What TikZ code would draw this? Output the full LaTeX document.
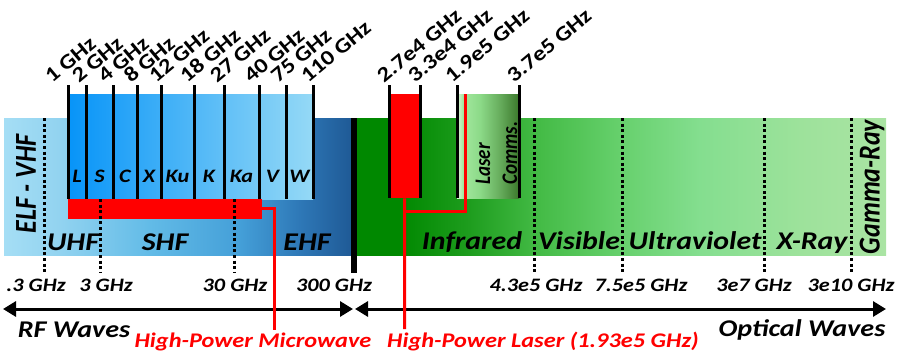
\documentclass[tikz,border=0pt]{standalone}
\usepackage{fontspec}
\setmainfont[FakeStretch=1.17]{Carlito}
\newfontfamily\plainfont{Carlito}
\usetikzlibrary{arrows.meta}
\definecolor{rf0}{HTML}{A5DEF5}
\definecolor{rf1}{HTML}{92D3F0}
\definecolor{rf2}{HTML}{62BBE7}
\definecolor{rf3}{HTML}{449FD8}
\definecolor{rf4}{HTML}{2E78B7}
\definecolor{rf5}{HTML}{1F5A96}
\definecolor{gr0}{HTML}{008800}
\definecolor{gr1}{HTML}{1E9D1E}
\definecolor{gr2}{HTML}{44BB46}
\definecolor{gr3}{HTML}{66D06C}
\definecolor{gr4}{HTML}{84DE8F}
\definecolor{gr5}{HTML}{9DE29B}
\definecolor{gr6}{HTML}{AAE4A3}
\definecolor{cm0}{HTML}{DDF5D8}
\definecolor{cm1}{HTML}{A3E79F}
\definecolor{cm2}{HTML}{8CDA88}
\definecolor{cm3}{HTML}{66AC5C}
\definecolor{cm4}{HTML}{3B782B}
\definecolor{cellL}{HTML}{0794F8}
\definecolor{cellR}{HTML}{95D9F6}
\definecolor{hpred}{HTML}{FF0000}
\pgfdeclarehorizontalshading{rfband}{100bp}{color(0bp)=(rf0); color(25bp)=(rf0); color(33bp)=(rf1); color(46bp)=(rf2); color(59bp)=(rf3); color(67.6bp)=(rf4); color(75bp)=(rf5); color(100bp)=(rf5)}
\pgfdeclarehorizontalshading{greenband}{100bp}{color(0bp)=(gr0); color(25bp)=(gr0); color(29bp)=(gr0); color(35.6bp)=(gr1); color(42.2bp)=(gr2); color(49.8bp)=(gr3); color(57.4bp)=(gr4); color(66.9bp)=(gr5); color(75bp)=(gr6); color(100bp)=(gr6)}
\pgfdeclarehorizontalshading{commsband}{100bp}{color(0bp)=(cm0); color(25bp)=(cm0); color(29.8bp)=(cm1); color(43.5bp)=(cm2); color(59.7bp)=(cm3); color(75bp)=(cm4); color(100bp)=(cm4)}
\tikzset{
  bandline/.style={line width=3pt, black},
  dotline/.style={line width=3pt, black, dash pattern=on 3pt off 2.6pt},
  redline/.style={line width=3pt, hpred},
  toplab/.style={rotate=40, anchor=base west, inner sep=0pt, font=\bfseries\fontsize{21}{21}\selectfont},
  vertlab/.style={transform shape, rotate=90, inner sep=0pt, font=\plainfont\bfseries\itshape\fontsize{26}{26}\selectfont},
  commslab/.style={transform shape, rotate=90, anchor=base west, inner sep=0pt, font=\plainfont\bfseries\itshape\fontsize{19}{19}\selectfont},
  bandlab/.style={anchor=base, inner sep=0pt, font=\bfseries\itshape\fontsize{19}{19}\selectfont},
  freqlab/.style={anchor=base, inner sep=0pt, font=\bfseries\itshape\fontsize{19}{19}\selectfont},
  regionlab/.style={anchor=base, inner sep=0pt, font=\bfseries\itshape\fontsize{25.5}{25.5}\selectfont},
  wavelab/.style={anchor=base, inner sep=0pt, font=\bfseries\itshape\fontsize{24}{24}\selectfont},
  redlab/.style={anchor=base, inner sep=0pt, text=hpred, font=\bfseries\itshape\fontsize{20.8}{20.8}\selectfont},
  bigarrow/.style={line width=3pt, black, {Triangle[length=13pt,width=15pt]}-{Triangle[length=13pt,width=15pt]}}
}
\newcommand\mytoplab[2]{\node[toplab] at (#1,84) {#2};}
\begin{document}
\begin{tikzpicture}[x=1pt,y=-1pt]
\useasboundingbox (0,0) rectangle (898,356);
% main bands
\fill[shading=rfband] (4,118) rectangle (351,255);
\fill[shading=greenband] (357,118) rectangle (886,255);
% microwave sub-bands
\fill[left color=cellL, right color=cellR] (68,94) rectangle (313,199);
\fill[hpred] (68,199) rectangle (262,219);
% laser boxes
\node[fill=hpred, minimum width=31pt, minimum height=104pt, anchor=north west, inner sep=0pt] (laserbox) at (389,94) {};
\fill[shading=commsband] (457,94) rectangle (519,198);
% separator bar
\node[fill=black, minimum width=6pt, minimum height=155pt, anchor=north west, inner sep=0pt] (sepbar) at (351,118) {};
% dotted boundaries
\foreach \x/\y in {44/118,100/199,234/199,534/118,622/118,764/118,851/118}
  \draw[dotline] (\x,\y) -- (\x,273);
% band edge lines
\foreach \x in {68,86,113,137,161,194,224,259,286,313}
  \draw[bandline] (\x,85) -- (\x,199);
\foreach \x in {389,420,457,519}
  \draw[bandline] (\x,85) -- (\x,198);
% top frequency labels
\mytoplab{52}{1 GHz}
\mytoplab{79}{2 GHz}
\mytoplab{105}{4 GHz}
\mytoplab{131}{8 GHz}
\mytoplab{156}{12 GHz}
\mytoplab{187}{18 GHz}
\mytoplab{217}{27 GHz}
\mytoplab{251}{40 GHz}
\mytoplab{278}{75 GHz}
\mytoplab{308}{110 GHz}
\mytoplab{384}{2.7e4 GHz}
\mytoplab{415}{3.3e4 GHz}
\mytoplab{452}{1.9e5 GHz}
\mytoplab{514}{3.7e5 GHz}
% rotated labels (image stretched horizontally)
\begin{scope}[xscale=1.17]
\node[commslab] (laserlab) at ({490/1.17},185) {Laser};
\node[commslab] (commslab) at ({517/1.17},185) {Comms.};
\node[vertlab] (elflab) at ({26/1.17},184) {ELF - VHF};
\node[vertlab] (gammalab) at ({872/1.17},187) {Gamma-Ray};
\end{scope}
% band letters
\node[bandlab] at (77,182) {L};
\node[bandlab] at (99.5,182) {S};
\node[bandlab] at (125,182) {C};
\node[bandlab] at (149,182) {X};
\node[bandlab] at (177.5,182) {Ku};
\node[bandlab] at (209,182) {K};
\node[bandlab] at (241.5,182) {Ka};
\node[bandlab] at (272.5,182) {V};
\node[bandlab] at (299.5,182) {W};
% region names
\node[regionlab] at (73,250) {UHF};
\node[regionlab] at (165,250) {SHF};
\node[regionlab] at (307,250) {EHF};
\node[regionlab] at (472,249) {Infrared};
\node[regionlab] at (579,249) {Visible};
\node[regionlab] at (695,249) {Ultraviolet};
\node[regionlab] at (812,249) {X-Ray};
% frequency labels
\node[freqlab] at (36,291) {.3 GHz};
\node[freqlab] at (106,291) {3 GHz};
\node[freqlab] at (235,291) {30 GHz};
\node[freqlab] at (334,291) {300 GHz};
\node[freqlab] at (536,291) {4.3e5 GHz};
\node[freqlab] at (641,291) {7.5e5 GHz};
\node[freqlab] at (754,291) {3e7 GHz};
\node[freqlab] at (851,291) {3e10 GHz};
% wave arrows
\coordinate (rfL) at (3,309);
\coordinate (rfR) at (353,309);
\coordinate (opL) at (355,309);
\coordinate (opR) at (886,309);
\draw[bigarrow] (rfL) -- (rfR);
\draw[bigarrow] (opL) -- (opR);
\node[wavelab] (rftext) at (74,337) {RF Waves};
\node[wavelab] (optext) at (802,336) {Optical Waves};
% high power labels and connectors
\node[redlab] (mwtext) at (253,347) {High-Power Microwave};
\node[redlab] (lztext) at (543,347) {High-Power Laser (1.93e5 GHz)};
\coordinate (mwA) at (262,208);
\coordinate (mwB) at (274,330);
\draw[redline] (mwA) -| (mwB);
\coordinate (lzTop) at (465,94);
\coordinate (lzJ) at (404.5,211);
\coordinate (lzBot) at (404.5,329);
\draw[redline] (lzTop) |- (lzJ);
\draw[redline] (laserbox.south) -- (lzBot);
\end{tikzpicture}
\end{document}
